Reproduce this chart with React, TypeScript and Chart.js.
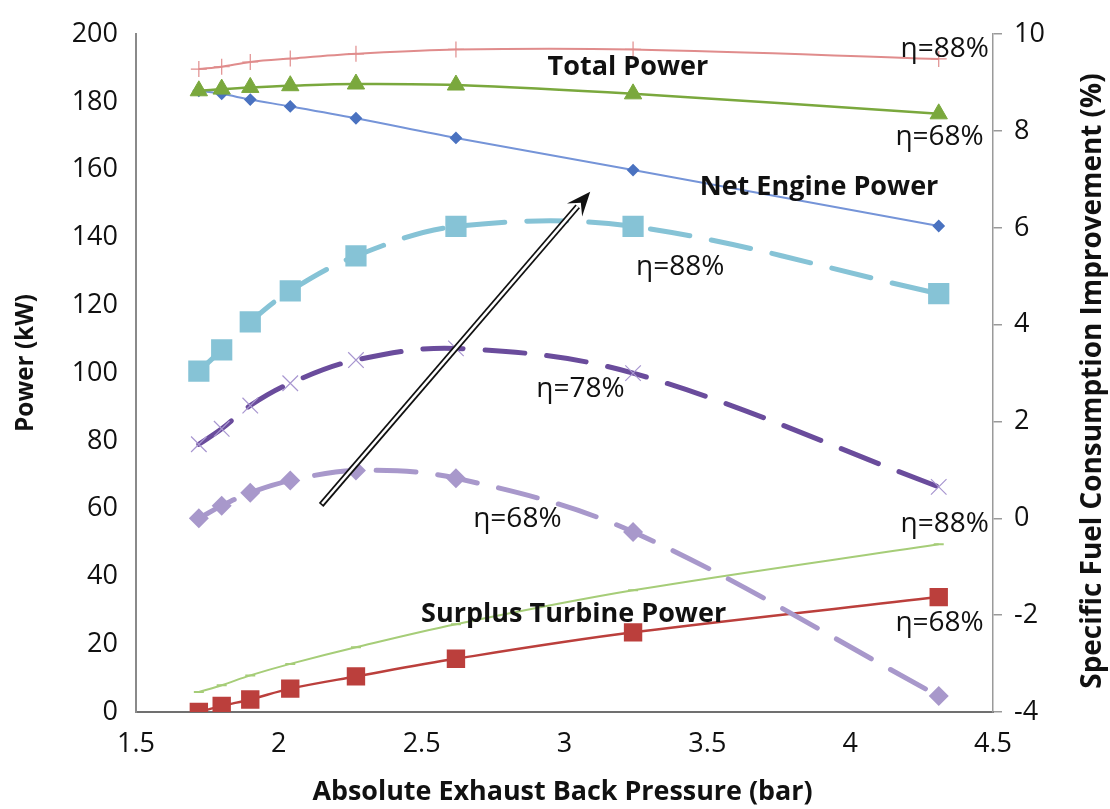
import React, { useEffect, useRef } from "react";
import { Chart, registerables } from "chart.js";

Chart.register(...registerables);

// ---- Data ----
const xValues = [1.72, 1.8, 1.9, 2.04, 2.27, 2.62, 3.24, 4.31];
const totalPower88 = [189.7, 190.4, 191.8, 192.8, 194.2, 195.5, 195.5, 192.7];
const totalPower68 = [183.3, 183.8, 184.3, 184.8, 185.3, 185.0, 182.4, 176.5];
const netEnginePower = [183.3, 182.4, 180.7, 178.7, 175.2, 169.4, 159.9, 143.4];
const sfc88 = [3.04, 3.48, 4.06, 4.7, 5.42, 6.03, 6.03, 4.64];
const sfc78 = [1.53, 1.85, 2.33, 2.79, 3.27, 3.51, 3.0, 0.65];
const sfc68 = [0.0, 0.26, 0.53, 0.78, 0.99, 0.83, -0.28, -3.67];
const surplus88 = [5.9, 7.9, 10.8, 14.2, 19.1, 25.9, 35.9, 49.5];
const surplus68 = [0.0, 1.8, 3.7, 6.9, 10.5, 15.7, 23.5, 33.9];

const xTitle = "Absolute Exhaust Back Pressure (bar)";
const yLeftTitle = "Power (kW)";
const yRightTitle = "Specific Fuel Consumption Improvement (%)";

// annotations: text, x (bar), y (kW on left axis), bold
const labelTexts = ["Total Power", "η=88%", "η=68%", "Net Engine Power", "η=88%", "η=78%", "η=68%", "η=88%", "Surplus Turbine Power", "η=68%"];
const labelX = [3.222, 4.331, 4.313, 3.891, 3.405, 3.056, 2.835, 4.331, 3.032, 4.313];
const labelY = [190.1, 195.6, 169.6, 154.9, 131.3, 95.3, 57.0, 55.6, 28.7, 26.3];
const labelBold = [true, false, false, true, false, false, false, false, true, false];

// arrow (tail -> head) in data coords
const arrowFrom = [2.148, 61.1];
const arrowTo = [3.09, 153.5];

const FONT = "'Open Sans', 'DejaVu Sans', sans-serif";
const TICK_SIZE = 27;

const xy = (ys: number[]) => ys.map((y, i) => ({ x: xValues[i], y }));

function fitFont(ctx: CanvasRenderingContext2D, text: string, target: number, bold: boolean) {
  ctx.font = (bold ? "bold " : "") + "100px " + FONT;
  const w = ctx.measureText(text).width;
  const size = Math.max(8, Math.min(40, (100 * target) / w));
  ctx.font = (bold ? "bold " : "") + size.toFixed(1) + "px " + FONT;
}

const overlayPlugin = {
  id: "overlay",
  afterDatasetsDraw(chart: any) {
    const { ctx, scales, chartArea } = chart;
    const xs = scales.x;
    const yl = scales.y;
    ctx.save();
    // arrow
    const x0 = xs.getPixelForValue(arrowFrom[0]);
    const y0 = yl.getPixelForValue(arrowFrom[1]);
    const x1 = xs.getPixelForValue(arrowTo[0]);
    const y1 = yl.getPixelForValue(arrowTo[1]);
    const dx = x1 - x0, dy = y1 - y0;
    const len = Math.sqrt(dx * dx + dy * dy);
    const ux = dx / len, uy = dy / len;
    const headLen = 24, headW = 10;
    const sx = x1 - ux * headLen * 0.8, sy = y1 - uy * headLen * 0.8;
    ctx.lineCap = "butt";
    ctx.strokeStyle = "#111";
    ctx.lineWidth = 6;
    ctx.beginPath(); ctx.moveTo(x0, y0); ctx.lineTo(sx, sy); ctx.stroke();
    ctx.strokeStyle = "#fff";
    ctx.lineWidth = 2.5;
    ctx.beginPath(); ctx.moveTo(x0 + ux * 1.5, y0 + uy * 1.5); ctx.lineTo(sx, sy); ctx.stroke();
    ctx.fillStyle = "#111";
    ctx.beginPath();
    ctx.moveTo(x1, y1);
    ctx.lineTo(x1 - ux * headLen - uy * headW, y1 - uy * headLen + ux * headW);
    ctx.lineTo(x1 - ux * headLen * 0.6, y1 - uy * headLen * 0.6);
    ctx.lineTo(x1 - ux * headLen + uy * headW, y1 - uy * headLen - ux * headW);
    ctx.closePath();
    ctx.fill();

    // labels
    ctx.fillStyle = "#111";
    ctx.textAlign = "center";
    ctx.textBaseline = "middle";
    labelTexts.forEach((t, i) => {
      ctx.font = (labelBold[i] ? "bold 27px " : "28px ") + FONT;
      ctx.fillText(t, xs.getPixelForValue(labelX[i]), yl.getPixelForValue(labelY[i]));
    });

    // axis titles
    ctx.textBaseline = "alphabetic";
    fitFont(ctx, xTitle, 500, true);
    ctx.fillText(xTitle, (chartArea.left + chartArea.right) / 2 - 2, chartArea.bottom + 88);
    ctx.textBaseline = "middle";
    ctx.save();
    fitFont(ctx, yLeftTitle, 138, true);
    ctx.translate(chartArea.left - 110, 363);
    ctx.rotate(-Math.PI / 2);
    ctx.fillText(yLeftTitle, 0, 0);
    ctx.restore();
    ctx.save();
    fitFont(ctx, yRightTitle, 615, true);
    ctx.translate(chartArea.right + 100, 381);
    ctx.rotate(-Math.PI / 2);
    ctx.fillText(yRightTitle, 0, 0);
    ctx.restore();
    ctx.restore();
  },
};

export default function App() {
  const ref = useRef<HTMLCanvasElement | null>(null);
  useEffect(() => {
    if (!ref.current) return;
    const dashed = { borderDash: [40, 22], borderCapStyle: "round" as const, borderWidth: 5 };
    const chart = new Chart(ref.current, {
      type: "line",
      data: {
        datasets: [
          {
            label: "Total Power η=88%", data: xy(totalPower88), yAxisID: "y",
            borderColor: "#e08c8c", backgroundColor: "#e08c8c", borderWidth: 2,
            pointStyle: "cross", pointRadius: 8, pointBorderWidth: 1.2, tension: 0.35,
          },
          {
            label: "Total Power η=68%", data: xy(totalPower68), yAxisID: "y",
            borderColor: "#7aa83d", backgroundColor: "#7aa83d", borderWidth: 2.5,
            pointStyle: "triangle", pointRadius: 10, pointBorderWidth: 1, tension: 0.35,
          },
          {
            label: "Net Engine Power", data: xy(netEnginePower), yAxisID: "y",
            borderColor: "#7594d8", backgroundColor: "#4a72c0", borderWidth: 2,
            pointStyle: "rectRot", pointRadius: 5, pointBorderColor: "#4a72c0", tension: 0.35,
          },
          {
            label: "SFC η=88%", data: xy(sfc88), yAxisID: "y1",
            borderColor: "#86c3d6", backgroundColor: "#86c3d6", ...dashed,
            pointStyle: "rect", pointRadius: 15, pointBorderWidth: 0, tension: 0.35,
          },
          {
            label: "SFC η=78%", data: xy(sfc78), yAxisID: "y1",
            borderColor: "#6a4c9c", backgroundColor: "#a896d0", ...dashed,
            pointStyle: "crossRot", pointRadius: 11, pointBorderWidth: 1.2, pointBorderColor: "#a896d0", tension: 0.35,
          },
          {
            label: "SFC η=68%", data: xy(sfc68), yAxisID: "y1",
            borderColor: "#a898cb", backgroundColor: "#a898cb", ...dashed,
            pointStyle: "rectRot", pointRadius: 10, pointBorderWidth: 0, tension: 0.35,
          },
          {
            label: "Surplus η=88%", data: xy(surplus88), yAxisID: "y",
            borderColor: "#a6cd78", backgroundColor: "#a6cd78", borderWidth: 2,
            pointStyle: "line", pointRadius: 5, pointBorderWidth: 2, tension: 0.35,
          },
          {
            label: "Surplus η=68%", data: xy(surplus68), yAxisID: "y",
            borderColor: "#bb3f3c", backgroundColor: "#bb3f3c", borderWidth: 2.5,
            pointStyle: "rect", pointRadius: 13, pointBorderWidth: 0, tension: 0.35,
          },
        ],
      },
      options: {
        animation: false,
        responsive: true,
        maintainAspectRatio: false,
        layout: { padding: { top: 28, left: 0, right: 0, bottom: 0 } },
        plugins: { legend: { display: false }, tooltip: { enabled: false }, title: { display: false } },
        scales: {
          x: {
            type: "linear", min: 1.5, max: 4.5,
            ticks: {
              stepSize: 0.5, color: "#111", font: { family: FONT, size: TICK_SIZE }, padding: 16, maxRotation: 0,
              callback: (v: any) => String(Number(Number(v).toFixed(2))),
            },
            grid: { display: false, drawTicks: false },
            border: { display: true, color: "#707070", width: 2 },
            afterFit: (s: any) => { s.height = 97; },
          },
          y: {
            type: "linear", position: "left", min: 0, max: 200,
            ticks: { stepSize: 20, color: "#111", font: { family: FONT, size: TICK_SIZE }, padding: 18 },
            grid: { display: false, drawTicks: false },
            border: { display: true, color: "#8a8a8a", width: 2 },
            afterFit: (s: any) => { s.width = 136; },
          },
          y1: {
            type: "linear", position: "right", min: -4, max: 10,
            ticks: { stepSize: 2, color: "#111", font: { family: FONT, size: TICK_SIZE }, padding: 12 },
            grid: { display: true, drawOnChartArea: false, drawTicks: true, tickLength: 9, color: "#9a9a9a", lineWidth: 1.5 },
            border: { display: true, color: "#9a9a9a", width: 1.5 },
            afterFit: (s: any) => { s.width = 117; },
          },
        },
      },
      plugins: [overlayPlugin],
    });
    return () => chart.destroy();
  }, []);

  return (
    <div style={{ position: "fixed", left: 0, top: 0, width: 1110, height: 809, background: "#fff" }}>
      <canvas ref={ref} />
    </div>
  );
}
